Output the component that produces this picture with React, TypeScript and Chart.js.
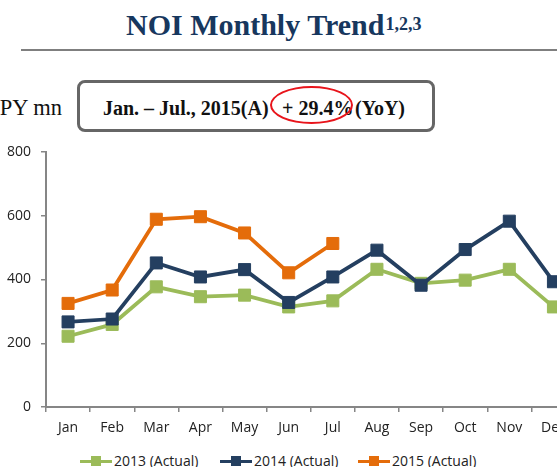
import React, { useEffect, useRef } from "react";
import { Chart, registerables } from "chart.js";

Chart.register(...registerables);

const months = ["Jan", "Feb", "Mar", "Apr", "May", "Jun", "Jul", "Aug", "Sep", "Oct", "Nov", "Dec"];
const noi2013 = [222, 259, 377, 346, 351, 314, 333, 432, 388, 398, 432, 314];
const noi2014 = [267, 276, 452, 408, 431, 328, 408, 492, 382, 494, 583, 393];
const noi2015 = [325, 367, 589, 597, 546, 421, 513, null, null, null, null, null];
const seriesNames = ["2013 (Actual)", "2014 (Actual)", "2015 (Actual)"];
const seriesColors = ["#9BBB59", "#243F60", "#E46C0A"];

const GREEN = seriesColors[0];
const NAVY = seriesColors[1];
const ORANGE = seriesColors[2];
const AXIS = "#868686";
const TICK_FONT = { family: "'Open Sans', sans-serif", size: 14 };

export default function App() {
  const ref = useRef<HTMLCanvasElement | null>(null);

  useEffect(() => {
    if (!ref.current) return;
    const mk = (label: string, data: (number | null)[], color: string, order: number) => ({
      label,
      data,
      borderColor: color,
      backgroundColor: color,
      borderWidth: 3.8,
      pointStyle: "rect" as const,
      pointRadius: 8.5,
      pointHoverRadius: 8.5,
      pointBorderWidth: 1,
      pointBorderColor: color,
      pointBackgroundColor: color,
      tension: 0,
      spanGaps: false,
      order,
    });
    const chart = new Chart(ref.current, {
      type: "line",
      data: {
        labels: months,
        datasets: [
          mk(seriesNames[0], noi2013, GREEN, 2),
          mk(seriesNames[1], noi2014, NAVY, 1),
          mk(seriesNames[2], noi2015, ORANGE, 0),
        ],
      },
      options: {
        responsive: false,
        animation: false,
        devicePixelRatio: 1,
        layout: { padding: { top: 12, left: 0, right: 0, bottom: 0 } },
        plugins: { legend: { display: false }, tooltip: { enabled: false }, title: { display: false } },
        scales: {
          x: {
            offset: true,
            grid: { offset: true, drawOnChartArea: false, drawTicks: true, tickLength: 5, color: AXIS, lineWidth: 1.5 },
            border: { color: AXIS, width: 2 },
            ticks: { font: TICK_FONT, color: "#222", padding: 8, maxRotation: 0, autoSkip: false },
            afterFit: (s: any) => {
              s.height = 30;
              s.paddingLeft = 0;
              s.paddingRight = 0;
            },
          },
          y: {
            min: 0,
            max: 800,
            grid: { drawOnChartArea: false, drawTicks: true, tickLength: 5, color: AXIS, lineWidth: 1.5 },
            border: { color: AXIS, width: 2 },
            ticks: { font: TICK_FONT, color: "#222", padding: 10, stepSize: 200 },
            afterFit: (s: any) => {
              s.width = 46;
              s.paddingTop = 0;
              s.paddingBottom = 0;
            },
          },
        },
      },
    });
    return () => chart.destroy();
  }, []);

  const serif = "'Liberation Serif', 'Times New Roman', serif";
  const boxText = {
    position: "absolute" as const,
    top: 98,
    fontFamily: serif,
    fontWeight: "bold" as const,
    fontSize: 20,
    lineHeight: "20px",
    color: "#111",
    whiteSpace: "nowrap" as const,
  };

  const legendItem = (i: number, left: number) => (
    <div key={i} style={{ position: "absolute", left, top: 454, height: 14, whiteSpace: "nowrap" }}>
      <div style={{ position: "absolute", left: 0, top: 5.5, width: 32, height: 3.5, background: seriesColors[i] }} />
      <div style={{ position: "absolute", left: 11, top: 2, width: 10, height: 10, background: seriesColors[i] }} />
      <span
        style={{
          position: "absolute",
          left: 34,
          top: 0,
          fontFamily: "'Open Sans', sans-serif",
          fontSize: 14,
          lineHeight: "14px",
          color: "#222",
        }}
      >
        {seriesNames[i]}
      </span>
    </div>
  );

  return (
    <div
      style={{
        position: "fixed",
        left: 0,
        top: 0,
        width: 557,
        height: 467,
        overflow: "hidden",
        background: "#fff",
      }}
    >
      <div
        style={{
          position: "absolute",
          left: 126,
          top: 10,
          fontFamily: serif,
          fontWeight: "bold",
          fontSize: 30,
          lineHeight: "29px",
          color: "#17375E",
          whiteSpace: "nowrap",
        }}
      >
        NOI Monthly Trend
        <span style={{ fontSize: 18, verticalAlign: "top", position: "relative", top: 0, marginLeft: 1 }}>1,2,3</span>
      </div>
      <div style={{ position: "absolute", left: 21, top: 49, width: 540, height: 2, background: "#7F7F7F" }} />

      <div
        style={{
          position: "absolute",
          right: 495,
          top: 97,
          fontFamily: serif,
          fontSize: 22.5,
          lineHeight: "22px",
          color: "#111",
          whiteSpace: "nowrap",
        }}
      >
        JPY mn
      </div>

      <div
        style={{
          position: "absolute",
          left: 77,
          top: 80,
          width: 358,
          height: 52,
          boxSizing: "border-box",
          border: "3px solid #666",
          borderRadius: 8,
        }}
      />
      <span style={{ ...boxText, left: 103 }}>Jan. – Jul., 2015(A)</span>
      <span style={{ ...boxText, left: 282 }}>+ 29.4%</span>
      <span style={{ ...boxText, left: 355 }}>(YoY)</span>
      <div
        style={{
          position: "absolute",
          left: 270,
          top: 86,
          width: 83,
          height: 38,
          boxSizing: "border-box",
          border: "2px solid #E8141B",
          borderRadius: "50%",
        }}
      />

      <canvas
        ref={ref}
        width={585}
        height={297}
        style={{ position: "absolute", left: 0, top: 140, width: 585, height: 297 }}
      />

      {legendItem(0, 80)}
      {legendItem(1, 220)}
      {legendItem(2, 358)}
    </div>
  );
}
